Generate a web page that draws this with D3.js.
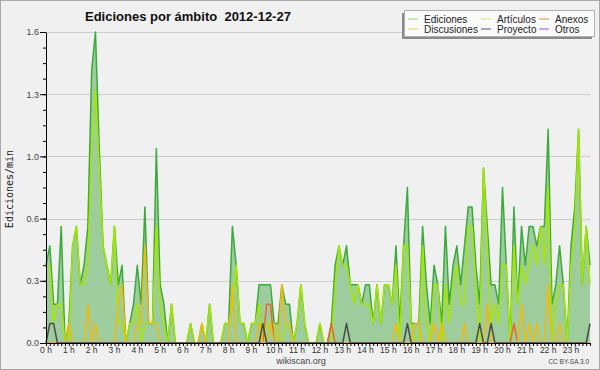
<!DOCTYPE html>
<html>
<head>
<meta charset="utf-8">
<script src="https://cdn.jsdelivr.net/npm/d3@7"></script>
<style>
  body { margin: 0; background: #fff; }
  svg { display: block; font-family: 'Liberation Sans', Arial, sans-serif; }
</style>
</head>
<body>
<svg id="svgchart"></svg>
<script>
'use strict'

// one value every 10 minutes (6 per hour), edits per minute
const ediciones = [
  0.4, 0.5, 0.2, 0.2, 0.6, 0.0,   0.1, 0.5, 0.6, 0.3, 0.4, 0.6,
  1.4, 1.6, 1.0, 0.5, 0.4, 0.3,   0.6, 0.3, 0.4, 0.0, 0.1, 0.2,
  0.4, 0.2, 0.7, 0.1, 0.1, 1.0,   0.3, 0.2, 0.0, 0.2, 0.0, 0.0,
  0.0, 0.0, 0.1, 0.0, 0.0, 0.1,   0.0, 0.2, 0.0, 0.0, 0.0, 0.1,
  0.1, 0.6, 0.4, 0.1, 0.1, 0.0,   0.1, 0.1, 0.3, 0.3, 0.3, 0.3,
  0.1, 0.1, 0.3, 0.2, 0.2, 0.0,   0.1, 0.3, 0.1, 0.0, 0.0, 0.0,
  0.1, 0.0, 0.0, 0.1, 0.4, 0.5,   0.4, 0.5, 0.3, 0.3, 0.3, 0.2,
  0.3, 0.3, 0.1, 0.3, 0.1, 0.3,   0.3, 0.2, 0.5, 0.1, 0.5, 0.8,
  0.1, 0.1, 0.1, 0.6, 0.3, 0.1,   0.4, 0.3, 0.1, 0.6, 0.2, 0.4,
  0.5, 0.3, 0.5, 0.7, 0.7, 0.4,   0.2, 0.9, 0.6, 0.3, 0.3, 0.2,
  0.8, 0.4, 0.0, 0.7, 0.2, 0.6,   0.4, 0.6, 0.6, 0.5, 0.6, 0.6,
  1.1, 0.2, 0.3, 0.5, 0.3, 0.0,   0.5, 0.7, 1.1, 0.3, 0.6, 0.4
]
const articulos = [
  0.4, 0.4, 0.1, 0.2, 0.2, 0.0,   0.0, 0.5, 0.6, 0.3, 0.3, 0.4,
  1.0, 1.3, 0.9, 0.5, 0.4, 0.3,   0.6, 0.1, 0.1, 0.0, 0.1, 0.1,
  0.2, 0.0, 0.1, 0.1, 0.1, 0.6,   0.2, 0.1, 0.0, 0.2, 0.0, 0.0,
  0.0, 0.0, 0.1, 0.0, 0.0, 0.1,   0.0, 0.2, 0.0, 0.0, 0.0, 0.1,
  0.1, 0.2, 0.4, 0.1, 0.1, 0.0,   0.1, 0.1, 0.2, 0.0, 0.1, 0.1,
  0.1, 0.0, 0.0, 0.1, 0.1, 0.0,   0.1, 0.3, 0.1, 0.0, 0.0, 0.0,
  0.1, 0.0, 0.0, 0.0, 0.3, 0.5,   0.4, 0.4, 0.3, 0.2, 0.3, 0.2,
  0.2, 0.2, 0.1, 0.3, 0.1, 0.3,   0.3, 0.2, 0.4, 0.0, 0.5, 0.5,
  0.1, 0.0, 0.0, 0.5, 0.1, 0.0,   0.3, 0.3, 0.0, 0.3, 0.1, 0.3,
  0.4, 0.2, 0.2, 0.6, 0.6, 0.3,   0.0, 0.9, 0.5, 0.1, 0.2, 0.1,
  0.4, 0.4, 0.0, 0.5, 0.2, 0.4,   0.3, 0.4, 0.5, 0.4, 0.6, 0.4,
  0.8, 0.0, 0.2, 0.3, 0.3, 0.0,   0.4, 0.6, 1.1, 0.3, 0.6, 0.3
]
const anexos = [
  0, 0, 0, 0, 0, 0,   0, 0, 0, 0, 0, 0,
  0, 0, 0, 0, 0, 0,   0, 0, 0, 0, 0, 0,
  0, 0, 0, 0, 0, 0,   0, 0, 0, 0, 0, 0,
  0, 0, 0, 0, 0, 0,   0, 0, 0, 0, 0, 0,
  0, 0, 0, 0, 0, 0,   0, 0, 0, 0, 0.2, 0.2,
  0, 0, 0, 0, 0, 0,   0, 0, 0, 0, 0, 0,
  0, 0, 0, 0.1, 0, 0, 0, 0, 0, 0, 0, 0,
  0, 0, 0, 0, 0, 0,   0, 0, 0, 0, 0, 0,
  0, 0, 0, 0, 0, 0,   0, 0, 0, 0, 0, 0,
  0, 0, 0, 0, 0, 0,   0, 0, 0, 0, 0, 0,
  0, 0, 0, 0.1, 0, 0, 0, 0, 0, 0, 0, 0,
  0, 0, 0, 0, 0, 0,   0, 0, 0, 0, 0, 0
]
const discusiones = [
  0, 0, 0, 0, 0, 0,         0.1, 0, 0, 0, 0, 0.2,
  0, 0.1, 0, 0, 0, 0,       0, 0.2, 0.3, 0, 0, 0,
  0.1, 0.1, 0.5, 0.1, 0.1, 0.1,   0, 0, 0, 0, 0, 0,
  0, 0, 0, 0, 0, 0.1,       0, 0, 0, 0, 0, 0,
  0, 0.3, 0, 0, 0, 0,       0, 0, 0.1, 0, 0, 0.1,
  0, 0, 0.3, 0.1, 0.1, 0,   0, 0, 0, 0, 0, 0,
  0, 0, 0, 0, 0, 0,         0, 0, 0, 0, 0, 0,
  0, 0, 0, 0, 0, 0,         0, 0, 0.1, 0, 0, 0,
  0, 0.1, 0.1, 0, 0, 0,     0.1, 0, 0.1, 0, 0, 0,
  0, 0, 0.1, 0, 0, 0,       0, 0, 0.2, 0, 0, 0,
  0, 0, 0, 0, 0, 0.2,       0, 0.1, 0, 0.1, 0, 0,
  0.3, 0, 0, 0.1, 0, 0,     0, 0, 0, 0, 0, 0
]
const proyecto = [
  0, 0.1, 0.1, 0, 0, 0,   0, 0, 0, 0, 0, 0,
  0, 0, 0, 0, 0, 0,       0, 0, 0, 0, 0, 0,
  0, 0, 0, 0, 0, 0,       0, 0, 0, 0, 0, 0,
  0, 0, 0, 0, 0, 0,       0, 0, 0, 0, 0, 0,
  0, 0, 0, 0, 0, 0,       0, 0, 0, 0.1, 0, 0,
  0, 0, 0, 0, 0, 0,       0, 0, 0, 0, 0, 0,
  0, 0, 0, 0, 0, 0,       0, 0.1, 0, 0, 0, 0,
  0, 0, 0, 0, 0, 0,       0, 0, 0, 0, 0, 0.1,
  0, 0, 0, 0, 0, 0,       0, 0, 0, 0, 0, 0,
  0, 0, 0, 0, 0, 0,       0.1, 0, 0, 0.1, 0, 0,
  0, 0, 0, 0, 0, 0,       0, 0, 0, 0, 0, 0,
  0, 0, 0, 0, 0, 0,       0, 0, 0, 0, 0, 0.1
]
const otros = [
  0, 0, 0, 0, 0, 0,   0, 0, 0, 0, 0, 0,
  0, 0, 0, 0, 0, 0,   0, 0, 0, 0, 0, 0,
  0, 0, 0, 0, 0, 0,   0, 0, 0, 0, 0, 0,
  0, 0, 0, 0, 0, 0,   0, 0, 0, 0, 0, 0,
  0, 0, 0, 0, 0, 0,   0, 0, 0, 0, 0, 0,
  0, 0, 0, 0, 0, 0,   0, 0, 0, 0, 0, 0,
  0, 0, 0, 0, 0, 0,   0, 0, 0, 0, 0, 0,
  0, 0, 0, 0, 0, 0,   0, 0, 0, 0, 0, 0,
  0, 0, 0, 0, 0, 0,   0, 0, 0, 0, 0, 0,
  0, 0, 0, 0, 0, 0,   0, 0, 0, 0, 0, 0,
  0, 0, 0, 0, 0, 0,   0, 0, 0, 0, 0, 0,
  0, 0, 0, 0, 0, 0,   0, 0, 0, 0, 0, 0
]

const hourLabels = ['0 h', '1 h', '2 h', '3 h', '4 h', '5 h', '6 h', '7 h', '8 h', '9 h', '10 h', '11 h',
  '12 h', '13 h', '14 h', '15 h', '16 h', '17 h', '18 h', '19 h', '20 h', '21 h', '22 h', '23 h']
const yMajorTicks = [0, 0.32, 0.64, 0.96, 1.28, 1.6]
const yMinorTicks = d3.range(0, 1.6001, 0.08)

const series = [
  {name: 'Ediciones', values: ediciones, color: '#3caa3c', legend: '#8fd08f', z: 1},
  {name: 'Artículos', values: articulos, color: '#a6e600', legend: '#c8f060', z: 2},
  {name: 'Anexos', values: anexos, color: '#ee6628', legend: '#f08050', z: 3},
  {name: 'Discusiones', values: discusiones, color: '#f0bb10', legend: '#f0cc50', z: 4},
  {name: 'Proyecto', values: proyecto, color: '#4a4a4a', legend: '#555555', z: 5},
  {name: 'Otros', values: otros, color: '#9944ee', legend: '#9955ee', z: 0}
]

const width = 600, height = 370
const margins = {top: 32, right: 10, bottom: 27, left: 46}

const svg = d3.select('#svgchart')
  .attr('width', width)
  .attr('height', height)

// background + frame
svg.append('rect')
  .attr('x', 0.5).attr('y', 0.5)
  .attr('width', width - 1).attr('height', height - 1)
  .attr('fill', '#f0f0f0')
  .attr('stroke', '#a8a8a8')

const x = d3.scaleLinear().domain([0, ediciones.length - 1]).range([margins.left, width - margins.right])
const y = d3.scaleLinear().domain([0, 1.6]).range([height - margins.bottom, margins.top])

// grid lines
svg.append('g')
  .selectAll('line')
  .data(yMajorTicks)
  .enter().append('line')
    .attr('x1', margins.left).attr('x2', width - margins.right)
    .attr('y1', d => Math.round(y(d)) + 0.5).attr('y2', d => Math.round(y(d)) + 0.5)
    .attr('stroke', '#cdcdcd')

// filled area under total edits
const area = d3.area()
  .x((d, i) => x(i))
  .y0(y(0))
  .y1(d => y(d))
svg.append('path')
  .datum(ediciones)
  .attr('d', area)
  .attr('fill', '#9dcc9d')

// lines (Otros goes underneath, so the zero line doesn't show purple)
const line = d3.line()
  .x((d, i) => x(i))
  .y(d => y(d))
svg.append('g')
  .selectAll('path')
  .data(series.slice().sort((a, b) => a.z - b.z))
  .enter().append('path')
    .attr('d', d => line(d.values))
    .attr('fill', 'none')
    .attr('stroke', d => d.color)
    .attr('stroke-width', 1.5)
    .attr('stroke-linejoin', 'round')

// y axis: major + minor ticks
const yAxis = svg.append('g')
  .attr('transform', 'translate(' + margins.left + ',0)')
  .call(d3.axisLeft(y).tickValues(yMajorTicks).tickSize(6).tickSizeOuter(0).tickFormat(d3.format('.1f')))
yAxis.selectAll('text').attr('fill', '#444').style('font-size', '9px').attr('x', -7)
yAxis.select('.domain').attr('stroke', '#000')
svg.append('g')
  .attr('transform', 'translate(' + margins.left + ',0)')
  .call(d3.axisLeft(y).tickValues(yMinorTicks).tickSize(3).tickSizeOuter(0).tickFormat(''))
  .select('.domain').remove()

// x axis: a tick every 10 minutes, labels every hour
const xAxis = svg.append('g')
  .attr('transform', 'translate(0,' + (height - margins.bottom) + ')')
  .call(d3.axisBottom(x).tickValues(d3.range(0, ediciones.length)).tickSize(3).tickSizeOuter(0).tickFormat(''))
xAxis.select('.domain').attr('stroke', '#000')
svg.append('g')
  .selectAll('text')
  .data(hourLabels)
  .enter().append('text')
    .attr('x', (d, i) => x(i * 6))
    .attr('y', height - margins.bottom + 10)
    .attr('text-anchor', 'middle')
    .style('font-size', '8.5px')
    .attr('fill', '#333')
    .text(d => d)

// title
svg.append('text')
  .attr('x', 85).attr('y', 21)
  .style('font-size', '13px')
  .style('font-weight', 'bold')
  .style('white-space', 'pre')
  .attr('fill', '#111')
  .text('Ediciones por ámbito  2012-12-27')

// y axis label
svg.append('text')
  .attr('transform', 'translate(13,189) rotate(-90)')
  .attr('text-anchor', 'middle')
  .style('font-family', "'DejaVu Sans Mono', monospace")
  .style('font-size', '10px')
  .attr('fill', '#222')
  .text('Ediciones/min')

// footer
svg.append('text')
  .attr('x', 301).attr('y', 364)
  .attr('text-anchor', 'middle')
  .style('font-size', '9px')
  .attr('fill', '#444')
  .text('wikiscan.org')
svg.append('text')
  .attr('x', 589).attr('y', 364)
  .attr('text-anchor', 'end')
  .style('font-size', '6.5px')
  .attr('fill', '#444')
  .text('CC BY-SA 3.0')

// legend
const legend = svg.append('g')
legend.append('rect')
  .attr('x', 402).attr('y', 13).attr('width', 190).attr('height', 26)
  .attr('fill', '#8a8a8a')
legend.append('rect')
  .attr('x', 404.5).attr('y', 10.5).attr('width', 190).attr('height', 26)
  .attr('fill', '#fafafa')
  .attr('stroke', '#b0b0b0')
const colX = [408, 481, 539]
const item = legend.selectAll('g.item')
  .data(series)
  .enter().append('g')
    .attr('class', 'item')
    .attr('transform', (d, i) => 'translate(' + colX[i % 3] + ',' + (19 + Math.floor(i / 3) * 10) + ')')
item.append('line')
  .attr('x1', 0).attr('x2', 10)
  .attr('stroke', d => d.legend)
item.append('text')
  .attr('x', 16).attr('dy', '0.35em')
  .style('font-size', '10px')
  .attr('fill', '#222')
  .text(d => d.name)
</script>
</body>
</html>
